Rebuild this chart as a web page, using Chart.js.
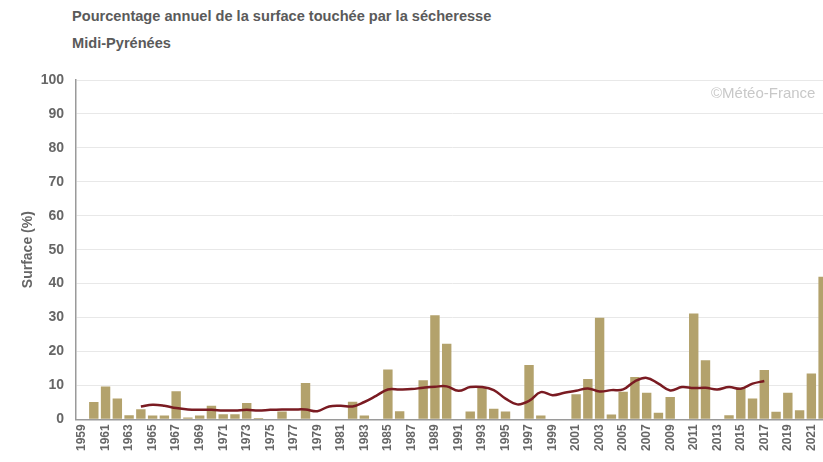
<!DOCTYPE html>
<html><head><meta charset="utf-8">
<script src="https://cdn.jsdelivr.net/npm/chart.js"></script>
<style>
html,body{margin:0;padding:0;background:#fff;overflow:hidden;width:823px;height:462px;}
#wrap{position:absolute;left:0;top:0;width:845px;height:456px;}
.t{position:absolute;left:72px;font-family:"Liberation Sans",Arial,sans-serif;font-weight:bold;font-size:14.6px;color:#5a5a5a;}
#wm{position:absolute;left:711px;top:84px;font-family:"Liberation Sans",Arial,sans-serif;font-size:15px;color:#c8c8c8;}
</style></head><body>
<div class="t" style="top:8px">Pourcentage annuel de la surface touchée par la sécheresse</div>
<div class="t" style="top:35px">Midi-Pyrénées</div>
<div id="wrap"><canvas id="c"></canvas></div>
<div id="wm">©Météo-France</div>
<script>
const years = [];
for (let y = 1959; y <= 2022; y++) years.push(String(y));

const surface = [
  0, 5.1, 9.7, 6.1, 1.2, 3.0, 1.1, 1.1, 8.3, 0.5,
  1.1, 4.0, 1.5, 1.5, 4.8, 0.4, 0, 2.3, 0, 10.7,
  0, 0, 0, 5.2, 1.1, 0, 14.7, 2.4, 0, 11.5,
  30.7, 22.3, 0, 2.3, 9.3, 3.1, 2.3, 0, 16.0, 1.1,
  0, 0, 7.4, 11.9, 29.9, 1.4, 8.1, 12.5, 7.8, 1.9,
  6.6, 0, 31.2, 17.4, 0, 1.2, 9.3, 6.1, 14.5, 2.2,
  7.8, 2.7, 13.5, 42.0
];

const smooth = [
  null, null, null, null, null, 3.8, 4.3, 4.0, 3.3, 2.9,
  2.8, 2.8, 2.6, 2.6, 2.8, 2.6, 2.8, 2.9, 2.9, 2.9,
  2.4, 3.8, 4.0, 3.8, 5.1, 6.9, 8.8, 8.8, 8.9, 9.3,
  9.6, 9.7, 8.4, 9.5, 9.5, 8.6, 6.1, 4.4, 5.4, 8.0,
  7.1, 7.8, 8.4, 9.1, 8.2, 8.6, 8.8, 11.2, 12.2, 10.5,
  8.5, 9.5, 9.2, 9.3, 8.8, 9.5, 9.0, 10.5, 11.3, null,
  null, null, null, null
];

const yTicks = [0,10,20,30,40,50,60,70,80,90,100];
const gray = '#666';
const font = {family: '"Liberation Sans", Arial, sans-serif', weight: 'bold', size: 14};

new Chart(document.getElementById('c'), {
  data: {
    labels: years,
    datasets: [
      {type: 'line', data: smooth, borderColor: '#7a1b22', borderWidth: 2.5,
       tension: 0.4, pointRadius: 0, spanGaps: false, order: 0},
      {type: 'bar', data: surface, backgroundColor: '#b3a26c',
       categoryPercentage: 1, barPercentage: 0.8, order: 1}
    ]
  },
  options: {
    responsive: true, maintainAspectRatio: false, animation: false,
    layout: {padding: {top: 80, right: 16, left: 20, bottom: 0}},
    plugins: {legend: {display: false}, tooltip: {enabled: false}},
    scales: {
      x: {
        offset: true,
        grid: {display: false, drawTicks: false},
        border: {color: '#9a9a9a', width: 1.5},
        ticks: {
          autoSkip: false, maxRotation: 90, minRotation: 90, padding: 5,
          color: gray, font: {family: font.family, weight: 'bold', size: 12},
          callback: function(v, i) { return i % 2 === 0 ? years[i] : ''; }
        }
      },
      y: {
        min: 0, max: 100,
        afterBuildTicks: function(s) { s.ticks = yTicks.map(v => ({value: v})); },
        grid: {color: '#e8e8e8', drawTicks: false, lineWidth: 1},
        border: {color: '#9a9a9a', width: 1.5},
        ticks: {color: gray, font: font, padding: 12},
        title: {display: true, text: 'Surface (%)', color: gray, font: font, padding: {top: 0, bottom: -8}}
      }
    }
  }
});
</script>
</body></html>
